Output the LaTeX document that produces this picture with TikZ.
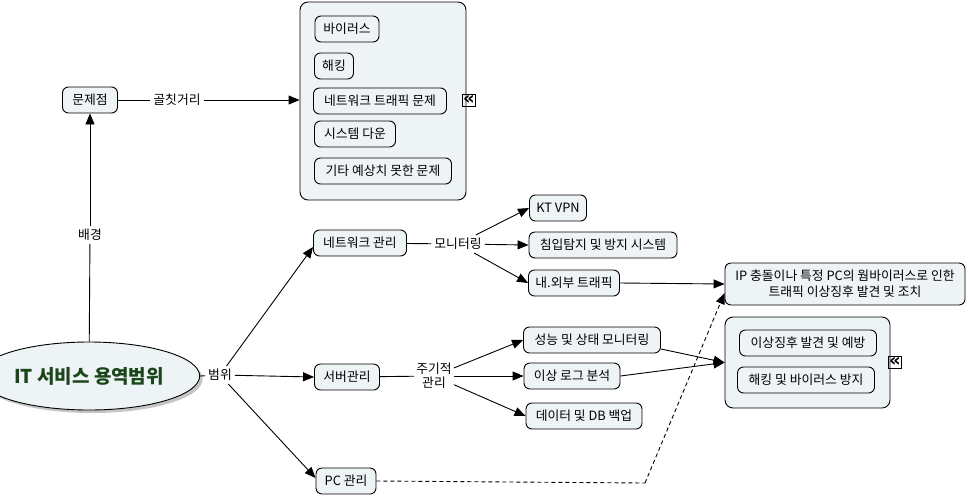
\documentclass[tikz,border=0pt]{standalone}
\usepackage{fontspec}
\setmainfont{Noto Sans CJK KR}
\newfontfamily\symfont{DejaVu Sans}
\usetikzlibrary{arrows.meta,shapes.geometric,shadows}
\definecolor{nodefill}{HTML}{EEF3F5}
\definecolor{titlegreen}{HTML}{1A461A}
\begin{document}
\begin{tikzpicture}[x=1pt,y=-1pt,
 txt/.style={font=\fontsize{12.8}{15}\selectfont},
 box/.style={txt, draw=black, line width=0.9pt, rounded corners=6pt, fill=nodefill, minimum height=26pt, inner xsep=3pt, inner ysep=2pt},
 cont/.style={draw=black, line width=0.9pt, rounded corners=8pt, fill=nodefill},
 lbl/.style={txt, inner sep=3pt},
 arr/.style={-{Triangle[length=11pt,width=9pt]}, line width=0.9pt},
 ln/.style={line width=0.9pt},
 coll/.style={draw, line width=0.8pt, minimum size=12pt, inner sep=0.5pt, font=\symfont\fontsize{18}{18}\selectfont\bfseries}
]
\useasboundingbox (0,0) rectangle (968,496);

% root
\node[ellipse, draw=black, line width=0.9pt, fill=nodefill, minimum width=178pt, minimum height=68pt,
  drop shadow={shadow xshift=3pt, shadow yshift=-3pt, fill=black!45},
  font=\fontsize{19}{22}\selectfont\bfseries, text=titlegreen] (root) at (89,376) {IT 서비스 용역범위};

% problem branch
\node[box, minimum width=55pt] (prob) at (90,100) {문제점};
\node[lbl] (bg) at (90,235) {배경};
\node[lbl] (gol) at (177,100) {골칫거리};

\node[cont, minimum width=166pt, minimum height=198pt] (c1) at (383,101) {};
\node[box, minimum width=64pt] (p1) at (347,29) {바이러스};
\node[box, minimum width=39pt] (p2) at (334,66) {해킹};
\node[box, minimum width=133pt] (p3) at (380,101) {네트워크 트래픽 문제};
\node[box, minimum width=81pt] (p4) at (355,134) {시스템 다운};
\node[box, minimum width=137pt] (p5) at (383,171) {기타 예상치 못한 문제};
\node[coll] (k1) at (469,100) {«};

% scope
\node[lbl] (scope) at (220,375) {범위};
\node[box, minimum width=93pt] (net) at (360,243) {네트워크 관리};
\node[box, minimum width=65pt] (srv) at (347,377) {서버관리};
\node[box, minimum width=60pt] (pc) at (346,481) {PC 관리};

\node[lbl] (mon) at (458,244) {모니터링};
\node[box, minimum width=57pt] (kt) at (558,208) {KT VPN};
\node[box, minimum width=148pt] (ids) at (603,245) {침입탐지 및 방지 시스템};
\node[box, minimum width=91pt] (traf) at (574,283) {내.외부 트래픽};

\node[lbl, align=center, inner sep=2pt] (per) at (434,376) {주기적\\[-1pt]관리};
\node[box, minimum width=137pt] (perf) at (592,340) {성능 및 상태 모니터링};
\node[box, minimum width=96pt] (log) at (572,376) {이상 로그 분석};
\node[box, minimum width=116pt] (bak) at (584,416) {데이터 및 DB 백업};

\node[box, align=center, minimum width=240pt, minimum height=42pt, inner ysep=2pt] (ip) at (845,284)
  {IP 충돌이나 특정 PC의 웜바이러스로 인한\\[1pt]트래픽 이상징후 발견 및 조치};
\node[cont, minimum width=165pt, minimum height=91pt] (c2) at (807.5,362.5) {};
\node[box, minimum width=137pt] (r1) at (808,343) {이상징후 발견 및 예방};
\node[box, minimum width=137pt] (r2) at (806,380) {해킹 및 바이러스 방지};
\node[coll] (k2) at (895,362) {«};

\coordinate (bend) at (645,483);

% connectors
\draw[ln] (root) -- (bg);
\draw[arr] (bg) -- (prob);
\draw[ln] (prob) -- (gol);
\draw[arr] (gol) -- (c1.west |- gol);

\draw[ln] (root.east) -- (scope);
\draw[arr] (scope) -- ([yshift=-4pt]net.west);
\draw[arr] (scope) -- (srv.west);
\draw[arr] (scope) -- ([yshift=3pt]pc.west);

\draw[ln] (net) -- (mon);
\draw[arr] (mon) -- (kt.west);
\draw[arr] (mon) -- (ids.west);
\draw[arr] (mon) -- (traf.west);

\draw[ln] (srv) -- (per);
\draw[arr] (per) -- (perf.west);
\draw[arr] (per) -- (log.west);
\draw[arr] (per) -- (bak.west);

\draw[arr] (traf.east) -- (ip.west);
\draw[arr] ([yshift=-9pt]perf.east) -- (c2.west);
\draw[arr] (log.east) -- (c2.west);
\draw[ln, dash pattern=on 4pt off 3pt] (pc.east) -- (bend);
\draw[arr, dash pattern=on 4pt off 3pt] (bend) -- ([yshift=-9pt]ip.west);
\end{tikzpicture}
\end{document}
